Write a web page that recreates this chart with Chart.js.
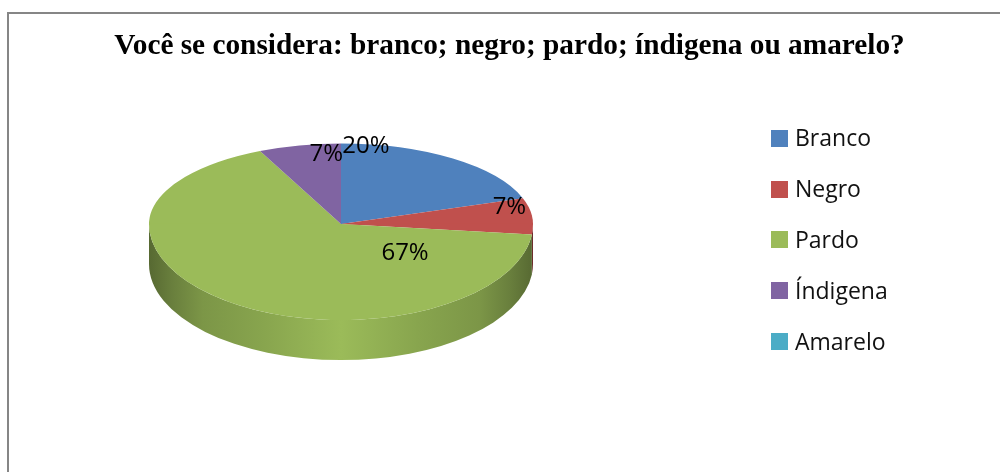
<!DOCTYPE html>
<html lang="pt">
<head>
<meta charset="utf-8">
<title>Você se considera</title>
<script src="https://cdn.jsdelivr.net/npm/chart.js@4/dist/chart.umd.js"></script>
<style>
    html, body { margin: 0; padding: 0; background: #fff; }
    #page { position: relative; width: 1000px; height: 472px; overflow: hidden; }
    #frame { position: absolute; left: 7px; top: 12px; right: -4px; bottom: -4px; border: 2px solid #868686; }
    #chart { position: absolute; left: 0; top: 0; }
    #title {
        position: absolute; left: 0; top: 28px; width: 1019px; text-align: center; white-space: nowrap;
        font: bold 29.3px "Liberation Serif", serif; color: #000;
    }
    #legend { position: absolute; left: 771px; top: 113px; margin: 0; padding: 0; list-style: none; }
    #legend li { display: flex; align-items: center; height: 50.8px; font: 23px "Open Sans", sans-serif; color: #111; }
    #legend li span { position: relative; top: -1px; }
    #legend i { display: block; width: 17px; height: 17px; margin-right: 7px; }
</style>
</head>
<body>
<div id="page">
    <div id="frame"></div>
    <canvas id="chart" width="1000" height="472"></canvas>
    <div id="title">Você se considera: branco; negro; pardo; índigena ou amarelo?</div>
    <ul id="legend"></ul>
</div>
<script>
const categories = ['Branco', 'Negro', 'Pardo', 'Índigena', 'Amarelo'];
const percentages = [20, 7, 67, 7, 0];
const sliceColors = ['#4f81bd', '#c0504d', '#9bbb59', '#8064a2', '#4bacc6'];

// nudges from each slice's centre point to where its label sits
const labelNudges = [[-31, -45], [73, -12], [120, -10], [6, -31], [0, 0]];

// the pie leans back: the far half is flatter than the near half
const SQUASH_BACK = 80.5 / 192;
const SQUASH_FRONT = 96 / 192;
const WALL_DEPTH = 40;

function shade(hex, factor) {
    const n = parseInt(hex.slice(1), 16);
    const c = [n >> 16, (n >> 8) & 255, n & 255].map(v => Math.round(v * factor));
    return `rgb(${c[0]}, ${c[1]}, ${c[2]})`;
}

// side wall under the front half of the pie
function drawWalls(chart) {
    const ctx = chart.ctx;
    chart.getDatasetMeta(0).data.forEach((arc, i) => {
        const { x, y, startAngle, endAngle, outerRadius } = arc.getProps(['x', 'y', 'startAngle', 'endAngle', 'outerRadius']);
        const a0 = Math.max(startAngle, 0);
        const a1 = Math.min(endAngle, Math.PI);
        if (a1 <= a0) { return; }

        const rx = outerRadius;
        const ry = outerRadius * SQUASH_FRONT;
        const grad = ctx.createLinearGradient(x - rx, 0, x + rx, 0);
        [[0, 0.56], [0.06, 0.68], [0.14, 0.8], [0.3, 0.88], [0.5, 1], [0.7, 0.88], [0.86, 0.8], [0.94, 0.68], [1, 0.56]]
            .forEach(([stop, factor]) => grad.addColorStop(stop, shade(sliceColors[i], factor)));

        ctx.beginPath();
        ctx.ellipse(x, y, rx, ry, 0, a0, a1);
        ctx.ellipse(x, y + WALL_DEPTH, rx, ry, 0, a1, a0, true);
        ctx.closePath();
        ctx.fillStyle = grad;
        ctx.fill();
    });
}

// draws the arcs once per half, each half clipped and flattened on its own
function drawTopFace(chart) {
    const ctx = chart.ctx;
    const meta = chart.getDatasetMeta(0);
    const { x, y } = meta.data[0];
    [[SQUASH_BACK, 0, y + 0.5], [SQUASH_FRONT, y - 0.5, chart.height]].forEach(([squash, top, bottom]) => {
        ctx.save();
        ctx.beginPath();
        ctx.rect(0, top, chart.width, bottom - top);
        ctx.clip();
        ctx.translate(x, y);
        ctx.scale(1, squash);
        ctx.translate(-x, -y);
        meta.controller.draw();
        ctx.restore();
    });
}

function drawLabels(chart) {
    const ctx = chart.ctx;
    ctx.save();
    ctx.font = '24px "Open Sans", sans-serif';
    ctx.fillStyle = '#000';
    ctx.textAlign = 'center';
    ctx.textBaseline = 'middle';
    chart.getDatasetMeta(0).data.forEach((arc, i) => {
        if (!percentages[i]) { return; }
        const p = arc.getCenterPoint();
        const dy = p.y - arc.y;
        const cy = arc.y + dy * (dy < 0 ? SQUASH_BACK : SQUASH_FRONT);
        ctx.fillText(`${percentages[i]}%`, p.x + labelNudges[i][0], cy + labelNudges[i][1]);
    });
    ctx.restore();
}

const tiltedPie = {
    id: 'tiltedPie',
    beforeDatasetsDraw(chart) {
        drawWalls(chart);
        drawTopFace(chart);
        drawLabels(chart);
        return false;
    },
};

new Chart(document.getElementById('chart'), {
    type: 'pie',
    data: {
        labels: categories,
        datasets: [{ data: percentages, backgroundColor: sliceColors, borderWidth: 0 }],
    },
    options: {
        responsive: false,
        animation: false,
        layout: { padding: { left: 149, right: 467, top: 32, bottom: 56 } },
        plugins: { legend: { display: false }, title: { display: false }, tooltip: { enabled: false } },
    },
    plugins: [tiltedPie],
});

const legend = document.getElementById('legend');
categories.forEach((name, i) => {
    const item = document.createElement('li');
    const swatch = document.createElement('i');
    const label = document.createElement('span');
    swatch.style.background = sliceColors[i];
    label.textContent = name;
    item.appendChild(swatch);
    item.appendChild(label);
    legend.appendChild(item);
});
</script>
</body>
</html>
